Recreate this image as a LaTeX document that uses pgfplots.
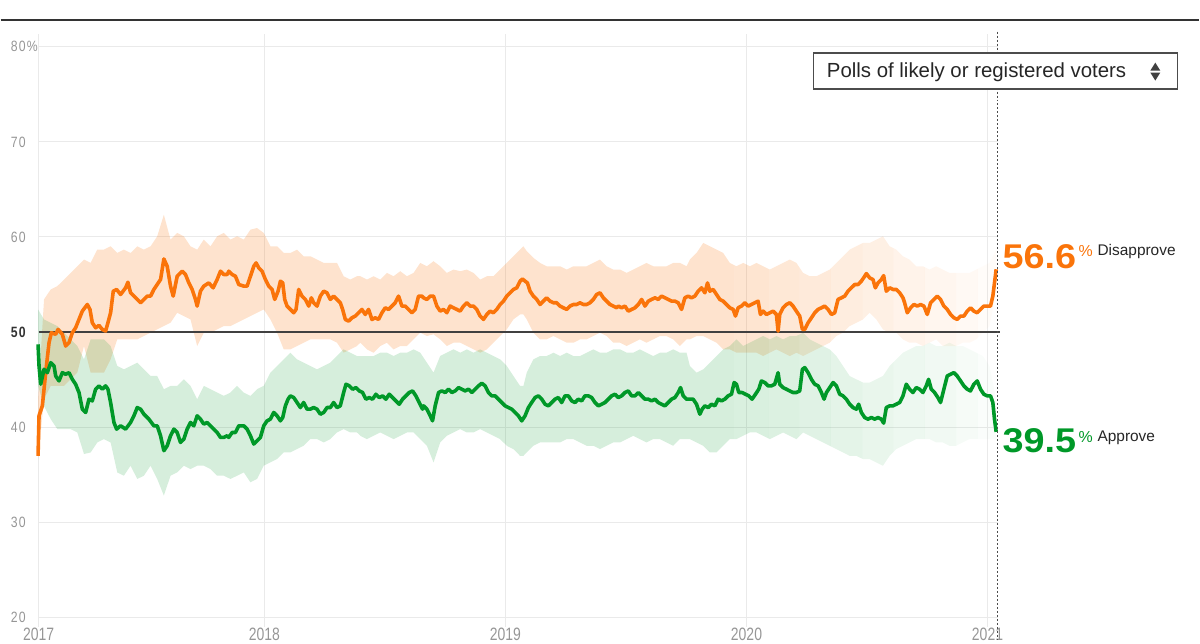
\documentclass[border=0pt]{standalone}
\usepackage{fontspec}
\setmainfont{Liberation Sans}
\newfontfamily\ytickfont[FakeStretch=0.82,LetterSpace=8]{Liberation Sans}
\newfontfamily\xtickfont[FakeStretch=0.78]{Liberation Sans}
\newfontfamily\bignum[FakeStretch=1.1]{Liberation Sans}
\usepackage{pgfplots}
\pgfplotsset{compat=1.18}
\usepackage{pgfplotstable}
\usepgfplotslibrary{fillbetween}
\definecolor{dis}{RGB}{250,116,10}
\definecolor{app}{RGB}{0,152,40}
\definecolor{gridc}{RGB}{234,234,234}
\definecolor{tickc}{RGB}{150,150,150}

\pgfplotstableread{
t v
2017.0608 36.98
2017.0649 41.19
2017.0787 42.24
2017.0925 45.73
2017.1064 48.88
2017.1160 49.93
2017.1340 49.76
2017.1436 50.28
2017.1616 49.76
2017.1754 48.53
2017.1892 48.88
2017.2030 49.93
2017.2168 50.45
2017.2307 51.33
2017.2445 52.20
2017.2652 52.90
2017.2762 52.38
2017.2859 50.98
2017.2997 50.45
2017.3135 50.70
2017.3273 50.28
2017.3411 50.10
2017.3508 50.98
2017.3618 52.03
2017.3729 54.30
2017.3867 54.48
2017.4033 53.95
2017.4240 54.65
2017.4337 55.24
2017.4447 54.13
2017.4585 53.78
2017.4723 53.43
2017.4861 53.08
2017.5000 53.43
2017.5138 53.78
2017.5276 53.78
2017.5414 54.48
2017.5552 55.00
2017.5690 55.52
2017.5828 57.69
2017.5966 56.92
2017.6104 54.83
2017.6215 53.78
2017.6380 55.87
2017.6588 56.40
2017.6726 56.05
2017.6864 55.17
2017.7002 54.48
2017.7140 53.43
2017.7209 52.73
2017.7347 54.30
2017.7485 54.83
2017.7692 55.17
2017.7872 54.65
2017.8038 55.52
2017.8176 56.40
2017.8314 56.05
2017.8452 56.05
2017.8522 56.40
2017.8660 56.05
2017.8798 55.87
2017.8936 55.00
2017.9144 54.83
2017.9282 54.83
2017.9420 55.87
2017.9558 56.92
2017.9655 57.27
2017.9765 56.75
2017.9903 56.40
2018.0041 55.52
2018.0179 54.83
2018.0317 54.48
2018.0428 53.43
2018.0566 54.30
2018.0663 55.35
2018.0759 55.17
2018.0842 53.43
2018.0939 52.73
2018.1077 52.38
2018.1215 52.03
2018.1312 52.38
2018.1422 54.48
2018.1560 53.78
2018.1698 53.43
2018.1837 52.73
2018.1947 53.60
2018.2044 53.08
2018.2182 52.73
2018.2320 53.78
2018.2458 54.30
2018.2596 54.13
2018.2734 53.43
2018.2872 53.78
2018.3010 53.43
2018.3148 53.08
2018.3245 52.38
2018.3356 51.33
2018.3494 51.15
2018.3632 51.50
2018.3770 51.68
2018.3908 52.03
2018.4046 52.38
2018.4184 51.85
2018.4322 52.38
2018.4460 51.33
2018.4598 51.50
2018.4737 51.33
2018.4875 52.03
2018.5013 52.55
2018.5151 52.38
2018.5289 52.73
2018.5427 53.08
2018.5565 53.78
2018.5703 52.73
2018.5841 52.73
2018.5979 52.38
2018.6118 52.03
2018.6256 52.38
2018.6394 53.78
2018.6532 53.78
2018.6602 53.60
2018.6740 53.43
2018.6878 53.78
2018.7016 53.78
2018.7155 52.73
2018.7293 52.20
2018.7431 52.38
2018.7569 52.03
2018.7707 52.73
2018.7845 52.55
2018.7983 52.38
2018.8121 52.20
2018.8259 52.73
2018.8397 53.08
2018.8536 52.73
2018.8674 52.73
2018.8812 52.38
2018.8950 51.68
2018.9088 51.33
2018.9226 51.85
2018.9364 52.20
2018.9502 52.03
2018.9640 52.38
2018.9778 52.90
2018.9917 53.25
2019.0055 53.78
2019.0193 54.13
2019.0331 54.48
2019.0469 54.65
2019.0607 55.35
2019.0704 55.59
2019.0814 55.35
2019.0911 55.17
2019.1021 54.30
2019.1159 53.78
2019.1298 53.43
2019.1436 52.90
2019.1574 53.25
2019.1712 53.60
2019.1850 53.25
2019.1988 53.08
2019.2126 53.08
2019.2264 52.73
2019.2402 52.55
2019.2540 52.38
2019.2679 52.73
2019.2817 52.90
2019.2955 52.90
2019.3093 53.08
2019.3231 52.90
2019.3369 52.90
2019.3507 53.08
2019.3645 53.43
2019.3783 53.95
2019.3921 54.13
2019.4060 53.60
2019.4198 53.25
2019.4336 52.90
2019.4474 52.73
2019.4612 52.55
2019.4682 52.73
2019.4820 52.55
2019.4958 52.73
2019.5096 52.20
2019.5235 52.38
2019.5373 52.55
2019.5511 52.90
2019.5649 53.43
2019.5787 52.73
2019.5925 53.25
2019.6063 53.43
2019.6201 53.60
2019.6339 53.43
2019.6477 53.78
2019.6616 53.60
2019.6754 53.43
2019.6892 53.25
2019.7030 53.25
2019.7168 53.08
2019.7306 52.38
2019.7444 53.60
2019.7582 53.78
2019.7720 53.60
2019.7858 53.78
2019.7997 54.30
2019.8135 54.65
2019.8273 54.13
2019.8383 55.17
2019.8480 54.30
2019.8618 54.48
2019.8756 53.95
2019.8894 53.43
2019.9032 53.25
2019.9170 52.90
2019.9308 52.55
2019.9447 52.38
2019.9543 51.68
2019.9654 52.55
2019.9792 52.73
2019.9930 53.08
2020.0068 52.73
2020.0206 52.90
2020.0344 53.08
2020.0482 53.25
2020.0579 51.85
2020.0689 52.20
2020.0828 51.85
2020.0966 52.03
2020.1104 52.20
2020.1242 51.85
2020.1311 50.10
2020.1380 51.85
2020.1518 52.55
2020.1656 52.90
2020.1794 53.08
2020.1932 52.73
2020.2070 52.20
2020.2209 51.68
2020.2319 50.28
2020.2418 50.28
2020.2556 50.98
2020.2694 51.50
2020.2832 52.03
2020.2970 52.38
2020.3109 52.55
2020.3247 52.73
2020.3385 52.38
2020.3523 51.85
2020.3661 52.03
2020.3799 53.43
2020.3937 53.60
2020.4075 53.78
2020.4213 54.30
2020.4351 54.65
2020.4490 55.00
2020.4628 55.00
2020.4766 55.35
2020.4904 55.87
2020.4973 56.15
2020.5111 55.70
2020.5249 55.52
2020.5346 54.65
2020.5456 55.17
2020.5594 55.52
2020.5691 55.94
2020.5801 54.30
2020.5940 54.65
2020.6078 54.48
2020.6216 54.48
2020.6354 54.13
2020.6492 53.60
2020.6561 53.08
2020.6671 52.03
2020.6810 52.55
2020.6948 52.90
2020.7086 52.73
2020.7224 52.90
2020.7362 52.73
2020.7500 51.85
2020.7638 53.08
2020.7776 53.43
2020.7914 53.78
2020.8052 53.43
2020.8190 52.73
2020.8329 52.38
2020.8467 51.85
2020.8605 51.50
2020.8743 51.33
2020.8881 51.68
2020.9019 51.68
2020.9157 52.20
2020.9295 52.55
2020.9434 52.20
2020.9572 52.03
2020.9710 52.38
2020.9848 52.73
2020.9986 52.73
2021.0124 52.73
2021.0221 53.78
2021.0290 55.17
2021.0359 56.60
}\disline

\pgfplotstableread{
t v
2017.0608 48.71
2017.0649 46.43
2017.0718 44.51
2017.0856 46.08
2017.0995 45.73
2017.1133 46.78
2017.1271 46.43
2017.1340 45.38
2017.1478 44.86
2017.1616 45.73
2017.1754 45.56
2017.1892 45.73
2017.2030 45.03
2017.2168 44.51
2017.2307 43.64
2017.2445 41.89
2017.2583 41.54
2017.2721 42.94
2017.2859 42.76
2017.2997 43.99
2017.3135 44.34
2017.3273 43.99
2017.3411 44.34
2017.3508 43.99
2017.3618 42.59
2017.3757 40.49
2017.3867 39.79
2017.4033 40.14
2017.4240 39.79
2017.4447 40.49
2017.4585 41.19
2017.4723 42.06
2017.4861 41.89
2017.5000 41.36
2017.5207 40.84
2017.5414 40.14
2017.5552 40.14
2017.5690 39.09
2017.5828 37.52
2017.5966 38.04
2017.6104 39.09
2017.6242 39.79
2017.6380 39.44
2017.6518 38.39
2017.6657 38.74
2017.6795 39.79
2017.6933 40.49
2017.7071 40.14
2017.7209 41.19
2017.7347 40.84
2017.7485 40.32
2017.7623 40.49
2017.7761 40.14
2017.7899 39.79
2017.8038 39.44
2017.8176 38.92
2017.8314 38.92
2017.8452 39.09
2017.8522 38.92
2017.8660 39.44
2017.8798 39.44
2017.8936 40.14
2017.9144 40.14
2017.9282 39.79
2017.9420 39.09
2017.9558 38.22
2017.9696 38.57
2017.9834 38.92
2017.9972 40.14
2018.0110 40.66
2018.0248 40.84
2018.0386 41.54
2018.0524 41.19
2018.0663 40.66
2018.0759 41.01
2018.0870 42.24
2018.0980 42.94
2018.1077 43.29
2018.1215 43.11
2018.1353 42.59
2018.1491 42.06
2018.1629 42.59
2018.1767 41.89
2018.1906 41.89
2018.2044 42.06
2018.2182 41.89
2018.2320 41.36
2018.2458 41.54
2018.2596 42.06
2018.2734 42.06
2018.2872 42.59
2018.3010 42.06
2018.3148 42.24
2018.3287 43.64
2018.3383 44.51
2018.3521 44.34
2018.3660 43.99
2018.3798 44.16
2018.3936 43.81
2018.4074 43.64
2018.4212 42.94
2018.4350 43.11
2018.4488 42.94
2018.4626 43.46
2018.4764 43.11
2018.4902 43.29
2018.5040 42.94
2018.5179 43.46
2018.5317 43.11
2018.5455 42.76
2018.5593 42.41
2018.5731 42.94
2018.5869 43.29
2018.6007 43.64
2018.6145 43.81
2018.6283 43.29
2018.6421 42.59
2018.6560 41.89
2018.6602 42.24
2018.6740 41.89
2018.6878 41.19
2018.6975 40.66
2018.7085 42.24
2018.7224 43.64
2018.7362 43.81
2018.7500 43.64
2018.7638 43.99
2018.7776 43.64
2018.7914 43.81
2018.8052 44.16
2018.8190 43.99
2018.8328 43.81
2018.8466 43.99
2018.8605 43.64
2018.8743 43.99
2018.8881 44.34
2018.9019 44.62
2018.9157 44.34
2018.9295 43.64
2018.9433 43.29
2018.9571 43.29
2018.9709 42.94
2018.9847 42.59
2018.9986 42.24
2019.0124 42.06
2019.0262 41.89
2019.0400 41.54
2019.0538 41.19
2019.0676 40.66
2019.0814 41.19
2019.0952 42.06
2019.1090 42.59
2019.1228 43.11
2019.1367 43.29
2019.1505 42.94
2019.1643 42.41
2019.1781 42.24
2019.1919 42.59
2019.2057 42.94
2019.2195 43.11
2019.2333 42.59
2019.2471 43.29
2019.2609 43.29
2019.2748 42.76
2019.2886 42.59
2019.3024 42.94
2019.3162 42.76
2019.3300 43.29
2019.3438 43.29
2019.3576 43.11
2019.3714 42.59
2019.3852 42.24
2019.3990 42.41
2019.4129 42.59
2019.4267 42.94
2019.4405 43.29
2019.4543 43.46
2019.4682 43.11
2019.4820 43.29
2019.4958 43.64
2019.5096 43.81
2019.5235 43.29
2019.5373 43.29
2019.5511 43.64
2019.5649 43.29
2019.5787 42.94
2019.5925 42.94
2019.6063 42.76
2019.6201 42.94
2019.6339 42.59
2019.6477 42.41
2019.6616 42.24
2019.6754 42.59
2019.6892 42.94
2019.7030 43.11
2019.7168 43.64
2019.7265 44.16
2019.7375 43.29
2019.7513 42.94
2019.7651 42.94
2019.7789 42.94
2019.7927 42.41
2019.8066 41.36
2019.8162 41.89
2019.8273 42.24
2019.8411 42.06
2019.8549 42.41
2019.8687 42.24
2019.8825 42.94
2019.8963 42.76
2019.9101 42.94
2019.9239 43.29
2019.9377 43.46
2019.9488 44.69
2019.9585 44.51
2019.9681 43.64
2019.9819 43.64
2019.9957 43.46
2020.0095 43.29
2020.0233 42.94
2020.0372 43.46
2020.0510 43.99
2020.0620 44.86
2020.0758 44.69
2020.0896 44.34
2020.1034 44.34
2020.1173 44.51
2020.1311 45.73
2020.1380 44.51
2020.1518 44.16
2020.1656 43.99
2020.1794 43.81
2020.1932 43.64
2020.2070 43.64
2020.2209 43.81
2020.2319 46.08
2020.2418 46.26
2020.2556 45.73
2020.2694 45.03
2020.2832 44.51
2020.2970 44.34
2020.3109 43.64
2020.3219 42.94
2020.3316 43.64
2020.3454 44.16
2020.3592 44.69
2020.3730 44.34
2020.3868 43.46
2020.4006 43.29
2020.4144 42.94
2020.4282 42.41
2020.4420 42.06
2020.4559 41.89
2020.4655 42.41
2020.4766 41.54
2020.4904 41.01
2020.5042 40.84
2020.5180 41.01
2020.5318 40.84
2020.5456 41.01
2020.5594 40.84
2020.5691 40.42
2020.5801 42.06
2020.5940 42.24
2020.6078 42.24
2020.6216 42.41
2020.6354 42.59
2020.6492 43.29
2020.6630 44.51
2020.6768 43.99
2020.6906 43.64
2020.7044 44.16
2020.7182 43.99
2020.7321 43.64
2020.7459 44.34
2020.7555 45.03
2020.7666 43.99
2020.7804 43.64
2020.7942 43.11
2020.8052 42.59
2020.8190 43.99
2020.8329 45.38
2020.8467 45.56
2020.8605 45.73
2020.8743 45.38
2020.8881 44.86
2020.9019 44.34
2020.9157 43.99
2020.9295 43.81
2020.9434 44.51
2020.9572 44.86
2020.9710 43.99
2020.9848 43.46
2020.9986 43.29
2021.0124 43.29
2021.0221 42.59
2021.0290 40.84
2021.0359 39.50
}\appline

\pgfplotstableread{
t u l
2017.0608 42.94 36.64
2017.0856 53.43 42.94
2017.1133 54.48 44.34
2017.1409 54.83 44.34
2017.1685 55.52 44.34
2017.1961 56.22 45.03
2017.2237 56.92 45.73
2017.2514 57.62 48.53
2017.2790 57.27 45.73
2017.3066 58.67 45.73
2017.3342 58.67 45.73
2017.3619 59.02 47.13
2017.3895 58.32 49.23
2017.4171 58.67 49.23
2017.4447 58.32 49.23
2017.4724 59.02 49.23
2017.5000 58.67 49.58
2017.5276 59.02 49.93
2017.5552 60.07 50.28
2017.5828 62.34 50.63
2017.6104 59.72 50.98
2017.6381 60.42 52.03
2017.6657 60.07 51.68
2017.6933 59.02 51.33
2017.7210 58.67 48.53
2017.7486 59.72 49.93
2017.7762 59.02 49.93
2017.8038 60.07 50.28
2017.8314 60.42 50.63
2017.8591 59.72 50.63
2017.8867 60.07 50.98
2017.9143 59.72 51.33
2017.9419 60.77 51.68
2017.9695 60.94 52.03
2017.9972 60.42 52.38
2018.0248 59.02 51.33
2018.0524 59.02 49.93
2018.0800 58.32 48.18
2018.1077 58.32 48.18
2018.1353 58.67 48.53
2018.1629 57.97 48.88
2018.1905 57.97 49.23
2018.2181 57.62 49.23
2018.2458 57.27 49.23
2018.2734 57.27 49.23
2018.3010 57.27 48.88
2018.3286 55.87 47.83
2018.3563 55.52 48.18
2018.3839 55.87 48.53
2018.3978 55.87 48.88
2018.4254 55.52 48.18
2018.4530 55.87 47.83
2018.4807 55.52 48.53
2018.5083 56.22 48.88
2018.5359 55.87 48.18
2018.5635 56.40 48.53
2018.5911 55.87 48.53
2018.6188 56.22 49.23
2018.6464 57.27 49.93
2018.6740 56.92 49.58
2018.7016 57.45 49.76
2018.7292 56.92 49.23
2018.7569 56.22 48.53
2018.7845 56.57 48.88
2018.8121 56.40 48.88
2018.8397 56.57 48.53
2018.8674 56.22 48.18
2018.8950 55.52 47.83
2018.9226 55.87 48.18
2018.9502 55.87 48.88
2018.9778 56.57 49.58
2019.0055 57.27 50.28
2019.0331 57.97 51.33
2019.0607 58.67 51.85
2019.0745 59.02 51.85
2019.0884 58.50 51.33
2019.1160 57.80 49.93
2019.1436 57.27 49.23
2019.1712 56.92 49.23
2019.1989 56.92 49.58
2019.2265 56.92 49.23
2019.2541 56.57 48.88
2019.2817 56.92 48.88
2019.3093 56.92 49.23
2019.3370 56.92 49.23
2019.3646 57.27 49.58
2019.3922 57.62 49.93
2019.4198 56.92 49.58
2019.4474 56.57 48.88
2019.4751 56.57 48.88
2019.5027 56.22 48.53
2019.5303 56.57 48.88
2019.5579 56.92 49.23
2019.5855 57.27 48.88
2019.6132 56.92 49.23
2019.6408 56.92 49.58
2019.6684 56.92 49.58
2019.6960 57.27 49.23
2019.7236 57.27 48.53
2019.7513 56.92 49.23
2019.7652 57.62 49.23
2019.7928 58.32 49.58
2019.8204 59.37 49.58
2019.8481 59.02 49.23
2019.8757 58.67 48.88
2019.9033 58.32 48.18
2019.9309 57.27 48.18
2019.9585 56.92 47.83
2019.9862 57.27 47.83
2020.0138 56.92 47.83
2020.0414 57.27 47.83
2020.0690 56.92 47.48
2020.0966 56.57 47.83
2020.1243 56.92 48.18
2020.1519 57.27 47.83
2020.1795 57.62 47.48
2020.2071 57.27 47.83
2020.2348 56.22 47.48
2020.2624 55.87 47.83
2020.2900 55.87 48.18
2020.3176 56.22 48.53
2020.3452 56.57 48.88
2020.3729 57.27 49.58
2020.4005 57.97 49.93
2020.4281 58.67 50.63
2020.4557 59.02 50.98
2020.4833 59.37 51.33
2020.5110 59.37 52.03
2020.5386 59.72 51.33
2020.5662 60.07 50.28
2020.5938 59.02 49.93
2020.6214 58.67 49.93
2020.6491 57.97 49.23
2020.6767 57.62 48.88
2020.7043 56.92 48.88
2020.7319 56.92 48.53
2020.7595 56.57 48.88
2020.7872 56.92 49.23
2020.8148 56.57 48.53
2020.8424 56.22 48.53
2020.8700 56.22 48.53
2020.8976 56.22 48.88
2020.9253 56.22 48.88
2020.9529 56.57 49.23
2020.9805 56.92 49.93
2021.0081 57.27 50.63
2021.0358 58.67 54.13
}\disband

\pgfplotstableread{
t u l
2017.0608 52.38 44.34
2017.0856 51.33 42.24
2017.1133 50.98 40.84
2017.1409 50.63 39.79
2017.1685 49.93 39.79
2017.1961 49.23 39.79
2017.2237 48.53 39.44
2017.2514 47.13 37.17
2017.2790 49.23 37.34
2017.3066 49.23 38.39
2017.3342 49.23 38.74
2017.3619 48.53 38.39
2017.3895 46.43 35.24
2017.4171 46.08 34.89
2017.4447 46.43 35.94
2017.4724 46.78 34.55
2017.5000 46.08 34.89
2017.5276 45.38 35.94
2017.5552 45.38 34.55
2017.5828 43.99 32.80
2017.6104 44.34 34.89
2017.6381 44.34 35.24
2017.6657 45.03 35.94
2017.6933 44.34 35.59
2017.7210 42.94 35.94
2017.7486 44.34 35.94
2017.7762 43.99 35.59
2017.8038 43.64 34.89
2017.8314 43.29 34.89
2017.8591 43.64 34.55
2017.8867 44.34 34.89
2017.9143 43.64 35.24
2017.9419 43.29 34.20
2017.9695 43.99 34.55
2017.9972 44.34 35.94
2018.0248 45.73 36.29
2018.0524 46.43 36.64
2018.0800 47.13 37.34
2018.1077 47.83 37.34
2018.1353 47.13 37.69
2018.1629 46.78 38.04
2018.1905 46.43 38.74
2018.2181 46.08 38.74
2018.2458 46.43 38.39
2018.2734 46.78 38.74
2018.3010 47.48 39.44
2018.3286 48.18 39.79
2018.3563 47.83 39.44
2018.3839 47.48 39.44
2018.3978 47.48 39.09
2018.4254 47.48 38.74
2018.4530 47.48 39.09
2018.4807 47.83 39.44
2018.5083 47.83 39.09
2018.5359 47.48 38.74
2018.5635 47.83 39.09
2018.5911 47.83 39.44
2018.6188 48.18 39.44
2018.6464 47.83 38.74
2018.6740 46.78 38.04
2018.7016 45.73 36.29
2018.7292 47.48 38.39
2018.7569 47.83 39.09
2018.7845 48.18 39.44
2018.8121 47.83 39.79
2018.8397 48.18 39.44
2018.8674 47.83 39.44
2018.8950 48.18 39.79
2018.9226 47.83 39.44
2018.9502 47.48 39.09
2018.9778 47.13 38.74
2019.0055 46.43 38.04
2019.0331 45.38 37.69
2019.0607 44.34 36.98
2019.0745 44.34 36.98
2019.0884 45.73 37.34
2019.1160 47.13 38.04
2019.1436 47.48 38.39
2019.1712 47.48 38.39
2019.1989 47.83 38.39
2019.2265 47.48 38.39
2019.2541 47.83 38.74
2019.2817 47.48 38.74
2019.3093 47.48 38.39
2019.3370 47.83 38.04
2019.3646 48.18 38.04
2019.3922 47.83 37.69
2019.4198 47.83 38.04
2019.4474 48.18 38.39
2019.4751 48.18 38.39
2019.5027 47.83 38.74
2019.5303 47.83 39.09
2019.5579 48.18 38.74
2019.5855 47.83 38.39
2019.6132 47.48 38.74
2019.6408 47.83 38.74
2019.6684 47.83 38.39
2019.6960 48.18 38.04
2019.7236 47.83 38.74
2019.7513 47.83 38.74
2019.7652 46.43 38.74
2019.7928 45.73 38.39
2019.8204 46.08 38.04
2019.8481 46.78 37.34
2019.8757 47.48 37.34
2019.9033 48.18 38.04
2019.9309 48.53 38.74
2019.9585 49.23 38.74
2019.9862 48.53 39.09
2020.0138 48.88 39.44
2020.0414 49.23 39.44
2020.0690 49.58 39.09
2020.0966 49.23 38.74
2020.1243 49.58 39.09
2020.1519 49.23 39.44
2020.1795 49.58 39.09
2020.2071 49.58 38.74
2020.2348 49.93 39.44
2020.2624 49.23 39.09
2020.2900 48.88 38.74
2020.3176 48.53 38.39
2020.3452 48.18 38.04
2020.3729 47.48 37.69
2020.4005 46.43 37.34
2020.4281 45.38 36.98
2020.4557 45.03 36.98
2020.4833 44.69 36.64
2020.5110 44.69 36.64
2020.5386 45.03 36.29
2020.5662 45.38 35.94
2020.5938 46.43 36.98
2020.6214 47.13 37.69
2020.6491 47.83 38.04
2020.6767 48.18 38.39
2020.7043 48.53 38.74
2020.7319 48.53 38.74
2020.7595 48.88 38.74
2020.7872 48.53 38.39
2020.8148 48.53 38.39
2020.8424 48.88 38.04
2020.8700 48.53 38.04
2020.8976 48.53 38.39
2020.9253 48.18 38.74
2020.9529 47.83 38.74
2020.9805 47.48 38.74
2021.0081 46.43 38.74
2021.0358 42.94 38.74
}\appband

\begin{document}
\begin{tikzpicture}[x=1bp,y=1bp]
\begin{axis}[
  at={(0,0)}, anchor=south west,
  scale only axis, width=960bp, height=593.1bp,
  xmin=2017.0635, xmax=2021.0415, ymin=19, ymax=81.3,
  axis line style={draw=none},
  major tick length=0pt,
  xtick={2017.0635,2018,2019,2020,2021},
  xticklabels={2017,2018,2019,2020,2021},
  ytick={20,30,40,50,60,70,80},
  yticklabels={20,30,40,{\color{black!80}\bfseries 50},60,70,80\%},
  xmajorgrids, ymajorgrids,
  grid style={gridc, line width=1bp},
  xticklabel style={font=\xtickfont\fontsize{18}{18}\selectfont, text=tickc, anchor=north, inner sep=0pt, yshift=-1bp},
  yticklabel style={font=\ytickfont\fontsize{15}{15}\selectfont, text=tickc, anchor=west, inner sep=0pt, xshift=-28bp},
  clip=false,
]
\addplot[draw=none, name path=ou, forget plot] table[x=t,y=u]{\disband};
\addplot[draw=none, name path=ol, forget plot] table[x=t,y=l]{\disband};
\addplot[draw=none, name path=gu, forget plot] table[x=t,y=u]{\appband};
\addplot[draw=none, name path=gl, forget plot] table[x=t,y=l]{\appband};
% solid part of the bands
\addplot[fill=dis, fill opacity=0.2, draw=none] fill between[of=ou and ol, soft clip={domain=2017:2019.95}];
\addplot[fill=app, fill opacity=0.16, draw=none] fill between[of=gu and gl, soft clip={domain=2017:2019.95}];
% fading part of the bands, in steps
\addplot[fill=dis, fill opacity=0.188, draw=none] fill between[of=ou and ol, soft clip={domain=2019.95:2020.09}];
\addplot[fill=dis, fill opacity=0.170, draw=none] fill between[of=ou and ol, soft clip={domain=2020.09:2020.22}];
\addplot[fill=dis, fill opacity=0.150, draw=none] fill between[of=ou and ol, soft clip={domain=2020.22:2020.35}];
\addplot[fill=dis, fill opacity=0.130, draw=none] fill between[of=ou and ol, soft clip={domain=2020.35:2020.48}];
\addplot[fill=dis, fill opacity=0.110, draw=none] fill between[of=ou and ol, soft clip={domain=2020.48:2020.61}];
\addplot[fill=dis, fill opacity=0.088, draw=none] fill between[of=ou and ol, soft clip={domain=2020.61:2020.74}];
\addplot[fill=dis, fill opacity=0.066, draw=none] fill between[of=ou and ol, soft clip={domain=2020.74:2020.87}];
\addplot[fill=dis, fill opacity=0.044, draw=none] fill between[of=ou and ol, soft clip={domain=2020.87:2020.96}];
\addplot[fill=dis, fill opacity=0.024, draw=none] fill between[of=ou and ol, soft clip={domain=2020.96:2021.1}];
\addplot[fill=app, fill opacity=0.150, draw=none] fill between[of=gu and gl, soft clip={domain=2019.95:2020.09}];
\addplot[fill=app, fill opacity=0.136, draw=none] fill between[of=gu and gl, soft clip={domain=2020.09:2020.22}];
\addplot[fill=app, fill opacity=0.120, draw=none] fill between[of=gu and gl, soft clip={domain=2020.22:2020.35}];
\addplot[fill=app, fill opacity=0.104, draw=none] fill between[of=gu and gl, soft clip={domain=2020.35:2020.48}];
\addplot[fill=app, fill opacity=0.088, draw=none] fill between[of=gu and gl, soft clip={domain=2020.48:2020.61}];
\addplot[fill=app, fill opacity=0.070, draw=none] fill between[of=gu and gl, soft clip={domain=2020.61:2020.74}];
\addplot[fill=app, fill opacity=0.053, draw=none] fill between[of=gu and gl, soft clip={domain=2020.74:2020.87}];
\addplot[fill=app, fill opacity=0.035, draw=none] fill between[of=gu and gl, soft clip={domain=2020.87:2020.96}];
\addplot[fill=app, fill opacity=0.019, draw=none] fill between[of=gu and gl, soft clip={domain=2020.96:2021.1}];
\addplot[black!75, line width=1.5bp] coordinates {(2017.0635,50) (2021.05,50)};
\addplot[dis, line width=3.6bp, line join=round] table[x=t,y=v]{\disline};
\addplot[app, line width=3.6bp, line join=round] table[x=t,y=v]{\appline};
\draw[black!70, line width=1.2bp, dash pattern=on 2bp off 2bp] (axis cs:2021.0415,81.6) -- (axis cs:2021.0415,17.6);
\end{axis}
% top rule
\draw[black!80, line width=1.5bp] (-38,607.6) -- (1162,607.6);
% dropdown box
\draw[black!70, line width=1.3bp, fill=white] (776,574.6) rectangle (1140,538.6);
\node[anchor=base west, inner sep=0pt, text=black!85] at (789,550.3) {\fontsize{20.5}{20.5}\selectfont Polls of likely or registered voters};
\fill[black!75] (1113,556.9) -- (1123,556.9) -- (1118,564.9) -- cycle;
\fill[black!75] (1113,554.9) -- (1123,554.9) -- (1118,546.9) -- cycle;
% end labels
\node[anchor=base west, inner sep=0pt, text=dis] at (965,358.6) {\bignum\fontsize{34.5}{34.5}\selectfont\bfseries 56.6};
\node[anchor=base west, inner sep=0pt, text=dis] at (1041,370.6) {\fontsize{16}{16}\selectfont \%};
\node[anchor=base west, inner sep=0pt, text=black!85] at (1060,371.6) {\fontsize{15.5}{15.5}\selectfont Disapprove};
\node[anchor=base west, inner sep=0pt, text=app] at (965,174.6) {\bignum\fontsize{34.5}{34.5}\selectfont\bfseries 39.5};
\node[anchor=base west, inner sep=0pt, text=app] at (1041,184.6) {\fontsize{16}{16}\selectfont \%};
\node[anchor=base west, inner sep=0pt, text=black!85] at (1060,185.6) {\fontsize{15.5}{15.5}\selectfont Approve};
% page frame (invisible)
\path (-38,-16.4) rectangle (1162,627.6);
\end{tikzpicture}
\end{document}
